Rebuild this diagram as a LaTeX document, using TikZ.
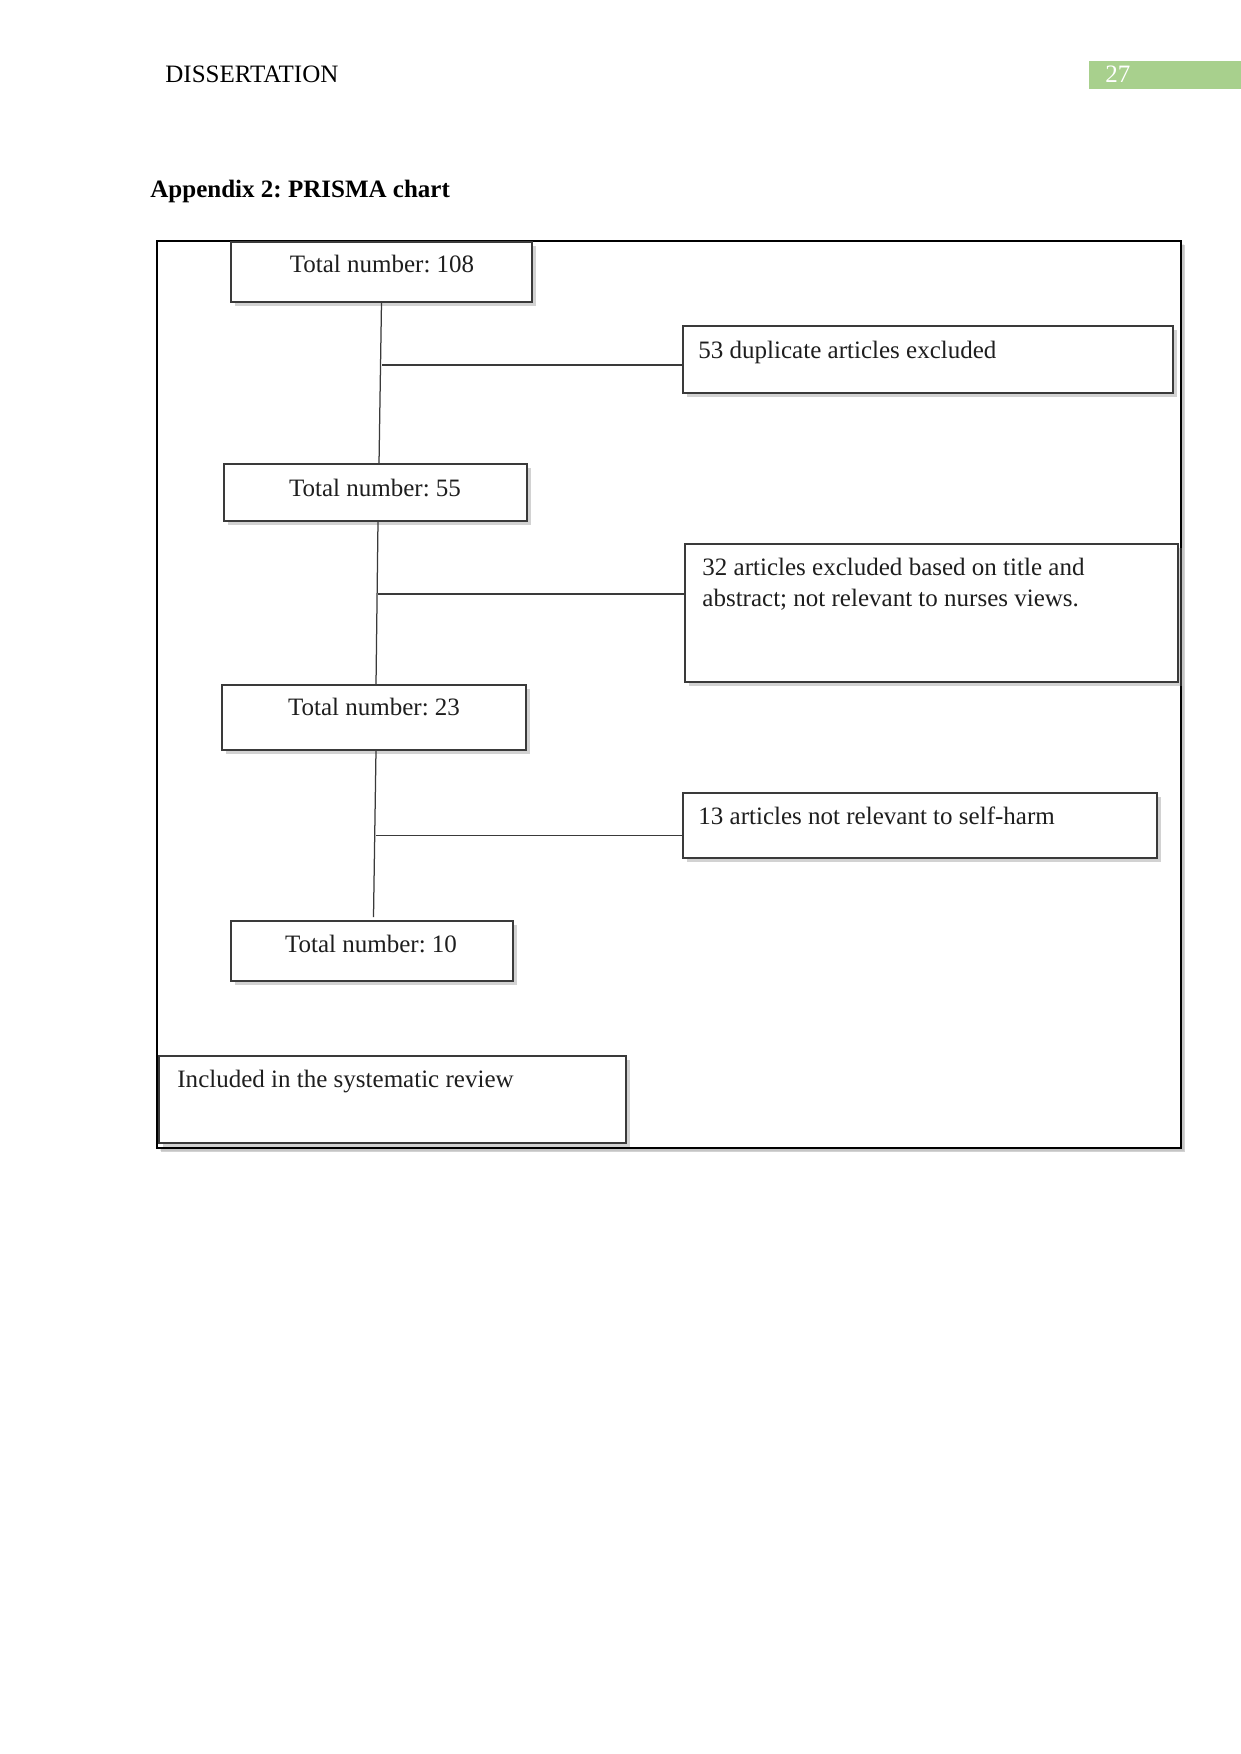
\documentclass[tikz,border=0pt]{standalone}
\usepackage{fontspec}
\setmainfont{Liberation Serif}
\frenchspacing
\usetikzlibrary{calc,shadows}
\definecolor{hdrgreen}{HTML}{A8D08D}
\definecolor{boxline}{HTML}{3A3A3A}
\definecolor{txt}{HTML}{1E1E1E}
\newcommand\mkbox[6][]{\node[box,#1,minimum width={(#5-#3)*0.4797pt},minimum height={(#6-#4)*0.4797pt}] (#2) at ({(#3+#5)/2},{(#4+#6)/2}) {};}
\begin{document}
\begin{tikzpicture}[x=0.4797pt,y=-0.4797pt,
  box/.style={draw=boxline, line width=0.75pt, fill=white, inner sep=0pt, outer sep=0pt,
    drop shadow={shadow xshift=1.8pt, shadow yshift=-1.8pt, opacity=0.35, fill=gray}},
  framebox/.style={draw=black, line width=1.2pt, fill=white,
    drop shadow={shadow xshift=1.2pt, shadow yshift=-1.2pt, opacity=0.15, fill=gray}},
  lbl/.style={font=\fontsize{12}{14.4}\selectfont, text=txt, inner sep=0pt},
  hdr/.style={font=\fontsize{12}{14.4}\selectfont, inner sep=0pt},
  link/.style={draw=boxline, line width=0.6pt}]
\useasboundingbox (0,0) rectangle (1241,1754);
\fill[white] (0,0) rectangle (1241,1754);
% header
\node[hdr, anchor=base west] (hdrtitle) at (165,83) {DISSERTATION};
\node[fill=hdrgreen, inner sep=0pt, outer sep=0pt, minimum width={152*0.4797pt}, minimum height={28*0.4797pt}] (pagebox) at (1165,75) {};
\node[hdr, anchor=base west, text=white] (pagenum) at (1105,83) {27};
\node[hdr, anchor=base west, font=\fontsize{12}{14.4}\selectfont\bfseries] (apptitle) at (150,197) {Appendix 2: PRISMA chart};
% frame
\mkbox[framebox]{frame}{157}{241}{1181}{1148}
% boxes
\mkbox{b108}{231}{242}{532}{302}
\mkbox{ex1}{683}{326}{1173}{393}
\mkbox{b55}{224}{464}{527}{521}
\mkbox{ex2}{685}{544}{1178}{682}
\mkbox{b23}{222}{685}{526}{750}
\mkbox{ex3}{683}{793}{1157}{858}
\mkbox{b10}{231}{921}{513}{981}
\mkbox{inc}{159}{1056}{626}{1143}
% texts
\node[lbl, anchor=base] (t108) at (382,272) {Total number: 108};
\node[lbl, anchor=base] (t55) at (375,496) {Total number: 55};
\node[lbl, anchor=base] (t23) at (374,715) {Total number: 23};
\node[lbl, anchor=base] (t10) at (371,952) {Total number: 10};
\node[lbl, anchor=base west] (tex1) at (698,358) {53 duplicate articles excluded};
\node[lbl, anchor=base west, align=left] (tex2) at (702,606) {32 articles excluded based on title and\\abstract; not relevant to nurses views.};
\node[lbl, anchor=base west] (tex3) at (698,824) {13 articles not relevant to self-harm};
\node[lbl, anchor=base west] (tinc) at (177,1087) {Included in the systematic review};
% connectors
\coordinate (v1) at ($(b55.north)+(3.5,0)$);
\coordinate (e1) at ($(ex1.west)+(0,5.5)$);
\draw[link] (b108.south) -- (v1);
\draw[link] (e1) -- (e1 -| b108.south);
\coordinate (u2) at ($(b55.south)+(2.5,0)$);
\coordinate (v2) at ($(b23.north)+(2,0)$);
\coordinate (e2) at ($(ex2.west)+(0,-19)$);
\draw[link] (u2) -- (v2);
\draw[link] (e2) -- (e2 -| u2);
\coordinate (u3) at ($(b23.south)+(2,0)$);
\coordinate (v3) at ($(b10.north)+(1.5,-4)$);
\coordinate (e3) at ($(ex3.west)+(0,10)$);
\draw[link] (u3) -- (v3);
\draw[link] (e3) -- (e3 -| u3);
\end{tikzpicture}
\end{document}
